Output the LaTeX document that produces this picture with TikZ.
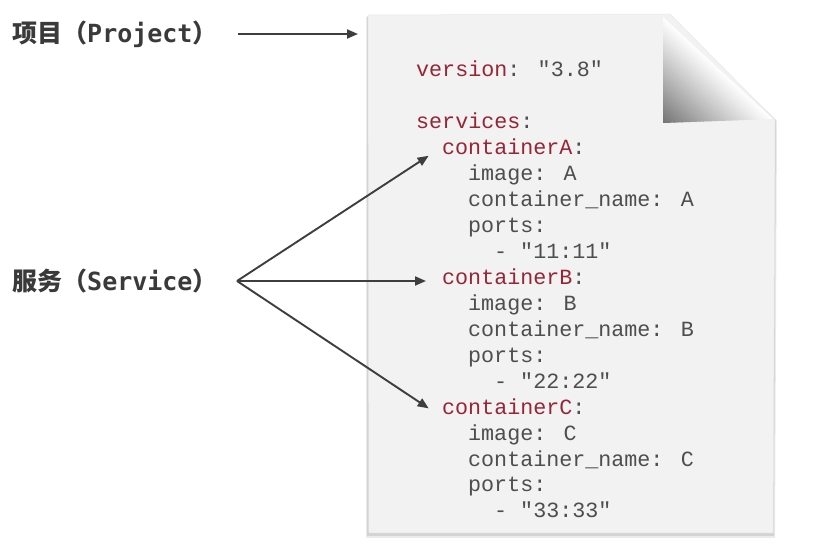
\documentclass[tikz,border=0pt]{standalone}
\usepackage{fontspec}
\setmonofont{DejaVu Sans Mono}
\newfontfamily\cjk{Noto Sans CJK SC}
\newfontfamily\codefont{Liberation Mono}
\usetikzlibrary{arrows.meta,calc}
\definecolor{keyred}{RGB}{150,38,55}
\definecolor{valgray}{RGB}{78,78,78}
\definecolor{lblgray}{RGB}{58,58,58}
\definecolor{arrgray}{RGB}{62,62,62}
\definecolor{paper}{RGB}{242,242,242}
\tikzset{
  codeline/.style={anchor=base west, inner sep=0pt, text=valgray,
    font=\codefont\fontsize{21.7}{26}\selectfont},
  lbl/.style={anchor=west, inner sep=0pt, text=lblgray,
    font=\fontsize{25}{30}\selectfont\bfseries},
  arr/.style={draw=arrgray, line width=1.9pt, -{Triangle[length=11pt,width=9pt]}},
}
\newcommand\kw[1]{{\color{keyred}#1}}
\begin{document}
\begin{tikzpicture}[x=1pt,y=-1pt]
\useasboundingbox (0,0) rectangle (823,545);
% page shadow
\fill[black, opacity=0.08] (366,17) -- (668,16) -- (777,121) -- (775,538) -- (366,538) -- cycle;
\fill[black, opacity=0.10] (367,16) -- (668,15) -- (776,120) -- (774,536) -- (367,536) -- cycle;
% page
\fill[paper, draw=black!9, line width=0.5pt] (368,15) -- (670,14) -- (775,120) -- (773,533) -- (369,533) -- cycle;
% fold (manual gradient)
\coordinate (fc) at (663,123);
\coordinate (fh1) at (663,17);
\coordinate (fh2) at (773,119);
\foreach \i in {0,...,29} {
  \pgfmathsetmacro\ta{\i/30}
  \pgfmathsetmacro\tb{min(1,(\i+1.3)/30)}
  \pgfmathsetmacro\dk{54*(1-\ta)^1.1}
  \fill[black!\dk] ($(fc)!\ta!(fh1)$) -- ($(fc)!\tb!(fh1)$) -- ($(fc)!\tb!(fh2)$) -- ($(fc)!\ta!(fh2)$) -- cycle;
}
% labels
\node[lbl] (proj) at (12,34) {\cjk 项目（\ttfamily Project\cjk ）};
\node[lbl] (svc) at (12,281) {\cjk 服务（\ttfamily Service\cjk ）};
% code
\node[codeline] (l0)  at (416,77)    {\kw{version}: "3.8"};
\node[codeline] (l2)  at (416,128.9) {\kw{services}:};
\node[codeline] (cA)  at (442,154.8) {\kw{containerA}:};
\node[codeline] (l4)  at (468,180.8) {image: A};
\node[codeline] (l5)  at (468,206.7) {container\_name: A};
\node[codeline] (l6)  at (468,232.6) {ports:};
\node[codeline] (l7)  at (494,258.6) {- "11:11"};
\node[codeline] (cB)  at (442,284.5) {\kw{containerB}:};
\node[codeline] (l9)  at (468,310.5) {image: B};
\node[codeline] (l10) at (468,336.4) {container\_name: B};
\node[codeline] (l11) at (468,362.3) {ports:};
\node[codeline] (l12) at (494,388.3) {- "22:22"};
\node[codeline] (cC)  at (442,414.2) {\kw{containerC}:};
\node[codeline] (l14) at (468,440.2) {image: C};
\node[codeline] (l15) at (468,466.1) {container\_name: C};
\node[codeline] (l16) at (468,492.0) {ports:};
\node[codeline] (l17) at (494,518.0) {- "33:33"};
% arrows
\coordinate (pstart) at (238,34);
\coordinate (pend) at (358,34);
\draw[arr] (pstart) -- (pend);
\coordinate (fork) at (237,281);
\draw[arr, shorten >=16pt] (fork) -- (cA.west);
\draw[arr, shorten >=16pt] (fork) -- (fork -| cB.west);
\draw[arr, shorten >=16pt] (fork) -- ($(cC.base west)+(0,3)$);
\end{tikzpicture}
\end{document}
